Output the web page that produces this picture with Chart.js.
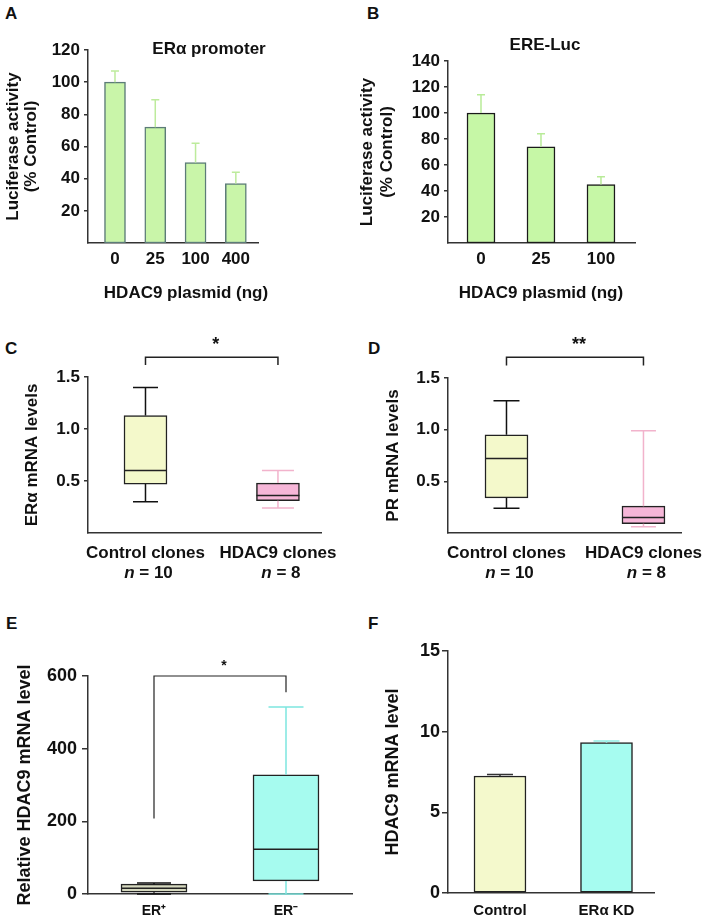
<!DOCTYPE html>
<html>
<head>
<meta charset="utf-8">
<script src="https://cdn.jsdelivr.net/npm/chart.js@4.4.1/dist/chart.umd.min.js"></script>
<style>
  body { margin: 0; background: #fff; }
  #page { position: relative; width: 709px; height: 922px; overflow: hidden; }
  canvas { position: absolute; }
  .tag { position: absolute; font: bold 17px "Liberation Sans", Arial, sans-serif; line-height: 17px; color: #111; }
</style>
</head>
<body>
<div id="page">
  <div class="tag" style="left:5px;top:5px">A</div>
  <div class="tag" style="left:367px;top:5px">B</div>
  <div class="tag" style="left:5px;top:340px">C</div>
  <div class="tag" style="left:368px;top:340px">D</div>
  <div class="tag" style="left:6px;top:615px">E</div>
  <div class="tag" style="left:368px;top:615px">F</div>
  <canvas id="chartA" width="354" height="310" style="left:0;top:0"></canvas>
  <canvas id="chartB" width="355" height="310" style="left:354px;top:0"></canvas>
  <canvas id="chartC" width="354" height="285" style="left:0;top:310px"></canvas>
  <canvas id="chartD" width="355" height="285" style="left:354px;top:310px"></canvas>
  <canvas id="chartE" width="354" height="327" style="left:0;top:595px"></canvas>
  <canvas id="chartF" width="355" height="327" style="left:354px;top:595px"></canvas>
</div>
<script>
// ---- A: ERα promoter
const plasmidA = ["0", "25", "100", "400"];
const promoterMean = [100, 72, 50, 37];
const promoterErr = [107, 89, 62, 44];
const ticksA = [20, 40, 60, 80, 100, 120];

// ---- B: ERE-Luc
const plasmidB = ["0", "25", "100"];
const ereMean = [100, 74, 45];
const ereErr = [114, 84, 51];
const ticksB = [20, 40, 60, 80, 100, 120, 140];

// ---- C / D: clones
const cloneLabels = ["Control clones", "HDAC9 clones"];
const cloneN = ["10", "8"];
const eraLow = [0.30, 0.24];
const eraQ1 = [0.47, 0.31];
const eraMed = [0.60, 0.36];
const eraQ3 = [1.13, 0.48];
const eraHigh = [1.40, 0.60];
const prLow = [0.24, 0.06];
const prQ1 = [0.34, 0.09];
const prMed = [0.72, 0.15];
const prQ3 = [0.95, 0.26];
const prHigh = [1.28, 0.99];
const ticksCD = [0.5, 1.0, 1.5];

// ---- E: ER status
const erStatus = ["ER\u207A", "ER\u207B"];
const hdacLow = [0, 0];
const hdacQ1 = [5, 36];
const hdacMed = [16, 123];
const hdacQ3 = [27, 328];
const hdacHigh = [30, 515];
const ticksE = [0, 200, 400, 600];

// ---- F: ERα knockdown
const kdLabels = ["Control", "ER\u03B1 KD"];
const kdMean = [7.25, 9.32];
const kdErr = [7.35, 9.42];
const ticksF = [0, 5, 10, 15];

const FONT = '"Liberation Sans", Arial, sans-serif';
Chart.defaults.font.family = FONT;
Chart.defaults.font.weight = "bold";
Chart.defaults.color = "#111";

const font = (size, style) => ({ family: FONT, size: size, weight: "bold", style: style || "normal" });

// draws error bars, box whiskers, brackets and loose texts using the chart scales
const extras = (cfg) => ({
  id: "extras",
  afterDatasetsDraw(chart) {
    const { ctx } = chart;
    const x = chart.scales.x, y = chart.scales.y;
    ctx.save();
    ctx.lineCap = "butt";
    (cfg.errors || []).forEach((e) => {
      e.mean.forEach((m, i) => {
        const cx = x.getPixelForValue(i + 1);
        const y0 = y.getPixelForValue(m), y1 = y.getPixelForValue(e.top[i]);
        ctx.strokeStyle = e.colors[i];
        ctx.lineWidth = e.width;
        ctx.beginPath();
        ctx.moveTo(cx, y0); ctx.lineTo(cx, y1);
        ctx.moveTo(cx - e.cap / 2, y1); ctx.lineTo(cx + e.cap / 2, y1);
        ctx.stroke();
      });
    });
    (cfg.boxes || []).forEach((b) => {
      b.med.forEach((md, i) => {
        const cx = x.getPixelForValue(i + 1);
        const hw = b.width / 2, cw = b.caps[i] / 2;
        ctx.strokeStyle = b.whisker[i];
        ctx.lineWidth = 1.5;
        ctx.beginPath();
        ctx.moveTo(cx, y.getPixelForValue(b.q3[i])); ctx.lineTo(cx, y.getPixelForValue(b.high[i]));
        ctx.moveTo(cx - cw, y.getPixelForValue(b.high[i])); ctx.lineTo(cx + cw, y.getPixelForValue(b.high[i]));
        ctx.moveTo(cx, y.getPixelForValue(b.q1[i])); ctx.lineTo(cx, y.getPixelForValue(b.low[i]));
        ctx.moveTo(cx - cw, y.getPixelForValue(b.low[i])); ctx.lineTo(cx + cw, y.getPixelForValue(b.low[i]));
        ctx.stroke();
        ctx.strokeStyle = b.border;
        ctx.lineWidth = 1.5;
        ctx.beginPath();
        ctx.moveTo(cx - hw, y.getPixelForValue(md)); ctx.lineTo(cx + hw, y.getPixelForValue(md));
        ctx.stroke();
      });
    });
    ctx.restore();
  },
  afterDraw(chart) {
    const { ctx } = chart;
    const x = chart.scales.x, y = chart.scales.y;
    ctx.save();
    const br = cfg.bracket;
    if (br) {
      const xa = x.getPixelForValue(1), xb = x.getPixelForValue(2);
      const yt = y.getPixelForValue(br.top);
      ctx.strokeStyle = "#222";
      ctx.lineWidth = br.lw;
      ctx.beginPath();
      ctx.moveTo(xa, y.getPixelForValue(br.left));
      ctx.lineTo(xa, yt);
      ctx.lineTo(xb, yt);
      ctx.lineTo(xb, y.getPixelForValue(br.right));
      ctx.stroke();
      ctx.fillStyle = "#111";
      ctx.font = "bold " + br.size + "px " + FONT;
      ctx.textAlign = "center";
      ctx.textBaseline = "middle";
      ctx.fillText(br.star, (xa + xb) / 2 + 4, yt - br.gap);
    }
    if (cfg.nLine) {
      cfg.nLine.forEach((n, i) => {
        const cx = x.getPixelForValue(i + 1) + 3;
        const yy = x.top + 40;
        ctx.font = "italic bold 17px " + FONT;
        const w1 = ctx.measureText("n").width;
        ctx.font = "bold 17px " + FONT;
        const rest = " = " + n;
        const w2 = ctx.measureText(rest).width;
        const x0 = cx - (w1 + w2) / 2;
        ctx.textAlign = "left";
        ctx.textBaseline = "middle";
        ctx.fillStyle = "#111";
        ctx.font = "italic bold 17px " + FONT;
        ctx.fillText("n", x0, yy);
        ctx.font = "bold 17px " + FONT;
        ctx.fillText(rest, x0 + w1, yy);
      });
    }
    (cfg.texts || []).forEach((t) => {
      ctx.fillStyle = "#111";
      ctx.font = "bold " + t.size + "px " + FONT;
      ctx.textAlign = "center";
      ctx.textBaseline = "middle";
      ctx.fillText(t.text, t.x, t.y);
    });
    ctx.restore();
  }
});

function makeChart(id, o) {
  return new Chart(document.getElementById(id), {
    type: "bar",
    data: { datasets: o.datasets },
    plugins: [extras(o.extras)],
    options: {
      responsive: false,
      animation: false,
      layout: { padding: { top: o.top, right: o.right, left: 0, bottom: 0 } },
      plugins: { legend: { display: false }, tooltip: { enabled: false }, title: { display: false } },
      scales: {
        x: {
          type: "linear",
          min: o.xmin,
          max: o.xmax,
          offset: false,
          grid: { display: false, drawTicks: false },
          border: { display: true, color: "#333", width: 1.5 },
          ticks: {
            font: font(o.xFont),
            padding: o.xPad,
            maxRotation: 0,
            autoSkip: false,
            callback: (v) => o.labels[v - 1] || ""
          },
          afterBuildTicks: (s) => { s.ticks = o.labels.map((_, i) => ({ value: i + 1 })); },
          afterFit: (s) => { s.height = o.xHeight; s.paddingLeft = 0; s.paddingRight = 0; }
        },
        y: {
          min: 0,
          max: o.ymax,
          grid: { display: true, drawOnChartArea: false, drawTicks: true, tickLength: o.tickLen, color: "#333", lineWidth: 1.5 },
          border: { display: true, color: "#333", width: 1.5 },
          ticks: {
            font: font(o.yFont),
            padding: o.yPad,
            callback: (v) => o.yFmt ? o.yFmt(v) : v
          },
          afterBuildTicks: (s) => { s.ticks = o.yTicks.map((v) => ({ value: v })); },
          title: {
            display: true,
            text: o.yTitle,
            font: Object.assign(font(o.yTitleFont), { lineHeight: o.yTitleLH || 1.2 }),
            padding: { top: o.yTitlePad, bottom: 0 }
          },
          afterFit: (s) => { s.width = o.yWidth; s.paddingTop = 0; s.paddingBottom = 0; }
        }
      }
    }
  });
}

const pts = (vals) => vals.map((v, i) => ({ x: i + 1, y: v }));
const spans = (lo, hi) => lo.map((v, i) => ({ x: i + 1, y: [v, hi[i]] }));

// A
makeChart("chartA", {
  top: 50, right: 96, yWidth: 88, xHeight: 67,
  xmin: 0.33, xmax: 4.55, labels: plasmidA, xFont: 17, xPad: 6,
  ymax: 120, yTicks: ticksA, yFont: 17, yPad: 4, tickLen: 4,
  yTitle: ["Luciferase activity", "(% Control)"], yTitleFont: 17, yTitleLH: 1.09, yTitlePad: 4,
  datasets: [{
    data: pts(promoterMean), barThickness: 21,
    backgroundColor: "#c9f5a9", borderColor: "#5c7c78", borderWidth: 1.5, borderSkipped: false
  }],
  extras: {
    errors: [{ mean: promoterMean, top: promoterErr, colors: plasmidA.map(() => "#bdeb9c"), width: 1.5, cap: 8 }],
    texts: [
      { text: "ER\u03B1 promoter", x: 209, y: 49, size: 17 },
      { text: "HDAC9 plasmid (ng)", x: 186, y: 293, size: 17 }
    ]
  }
});

// B
makeChart("chartB", {
  top: 61, right: 74, yWidth: 94, xHeight: 67,
  xmin: 0.45, xmax: 3.567, labels: plasmidB, xFont: 17, xPad: 6,
  ymax: 140, yTicks: ticksB, yFont: 17, yPad: 4, tickLen: 4,
  yTitle: ["Luciferase activity", "(% Control)"], yTitleFont: 17, yTitleLH: 1.15, yTitlePad: 4,
  datasets: [{
    data: pts(ereMean), barThickness: 28,
    backgroundColor: "#c6f7a6", borderColor: "#1a1a1a", borderWidth: 1.5, borderSkipped: false
  }],
  extras: {
    errors: [{ mean: ereMean, top: ereErr, colors: plasmidB.map(() => "#b8eb98"), width: 1.5, cap: 8 }],
    texts: [
      { text: "ERE-Luc", x: 191, y: 45, size: 17 },
      { text: "HDAC9 plasmid (ng)", x: 187, y: 293, size: 17 }
    ]
  }
});

// C
makeChart("chartC", {
  top: 67, right: 33, yWidth: 88, xHeight: 62,
  xmin: 0.566, xmax: 2.325, labels: cloneLabels, xFont: 17, xPad: 10,
  ymax: 1.5, yTicks: ticksCD, yFont: 17, yPad: 4, tickLen: 4, yFmt: (v) => v.toFixed(1),
  yTitle: "ER\u03B1 mRNA levels", yTitleFont: 17, yTitlePad: 22,
  datasets: [{
    data: spans(eraQ1, eraQ3), barThickness: 43,
    backgroundColor: ["#f4f9cb", "#f6b6d8"], borderColor: "#222", borderWidth: 1.5, borderSkipped: false
  }],
  extras: {
    boxes: [{ q1: eraQ1, q3: eraQ3, med: eraMed, low: eraLow, high: eraHigh, width: 43, caps: [25, 32], whisker: ["#111", "#f2b3cc"], border: "#222" }],
    bracket: { top: 1.69, left: 1.615, right: 1.615, star: "*", size: 18, gap: 12, lw: 1.5 },
    nLine: cloneN
  }
});

// D
makeChart("chartD", {
  top: 68, right: 28, yWidth: 94, xHeight: 62,
  xmin: 0.573, xmax: 2.274, labels: cloneLabels, xFont: 17, xPad: 10,
  ymax: 1.5, yTicks: ticksCD, yFont: 17, yPad: 4, tickLen: 4, yFmt: (v) => v.toFixed(1),
  yTitle: "PR mRNA levels", yTitleFont: 17, yTitlePad: 29,
  datasets: [{
    data: spans(prQ1, prQ3), barThickness: 43,
    backgroundColor: ["#f4f9cb", "#f6b6d8"], borderColor: "#222", borderWidth: 1.5, borderSkipped: false
  }],
  extras: {
    boxes: [{ q1: prQ1, q3: prQ3, med: prMed, low: prLow, high: prHigh, width: 43, caps: [26, 25], whisker: ["#111", "#f2b3cc"], border: "#222" }],
    bracket: { top: 1.70, left: 1.62, right: 1.62, star: "**", size: 18, gap: 12, lw: 1.5 },
    nLine: cloneN
  }
});

// E
makeChart("chartE", {
  top: 81, right: 2, yWidth: 88, xHeight: 28,
  xmin: 0.5, xmax: 2.5, labels: erStatus, xFont: 14, xPad: 9,
  ymax: 600, yTicks: ticksE, yFont: 18, yPad: 5, tickLen: 6,
  yTitle: "Relative HDAC9 mRNA level", yTitleFont: 18, yTitlePad: 14,
  datasets: [{
    data: spans(hdacQ1, hdacQ3), barThickness: 66,
    backgroundColor: ["#d6d9bf", "#a6fbef"], borderColor: "#222", borderWidth: 1.5, borderSkipped: false
  }],
  extras: {
    boxes: [{ q1: hdacQ1, q3: hdacQ3, med: hdacMed, low: hdacLow, high: hdacHigh, width: 66, caps: [34, 35], whisker: ["#111", "#7ee6e0"], border: "#222" }],
    bracket: { top: 600, left: 208, right: 555, star: "*", size: 14, gap: 10, lw: 1.2 }
  }
});

// F
makeChart("chartF", {
  top: 56, right: 55, yWidth: 94, xHeight: 29,
  xmin: 0.512, xmax: 2.446, labels: kdLabels, xFont: 15, xPad: 9,
  ymax: 15, yTicks: ticksF, yFont: 18, yPad: 2, tickLen: 6,
  yTitle: "HDAC9 mRNA level", yTitleFont: 18, yTitlePad: 28,
  datasets: [{
    data: pts(kdMean), barThickness: 52,
    backgroundColor: ["#f4f9cc", "#a6fcf0"], borderColor: "#222", borderWidth: 1.5, borderSkipped: false
  }],
  extras: {
    errors: [{ mean: kdMean, top: kdErr, colors: ["#333", "#8eeee4"], width: 1.5, cap: 26 }]
  }
});
</script>
</body>
</html>
